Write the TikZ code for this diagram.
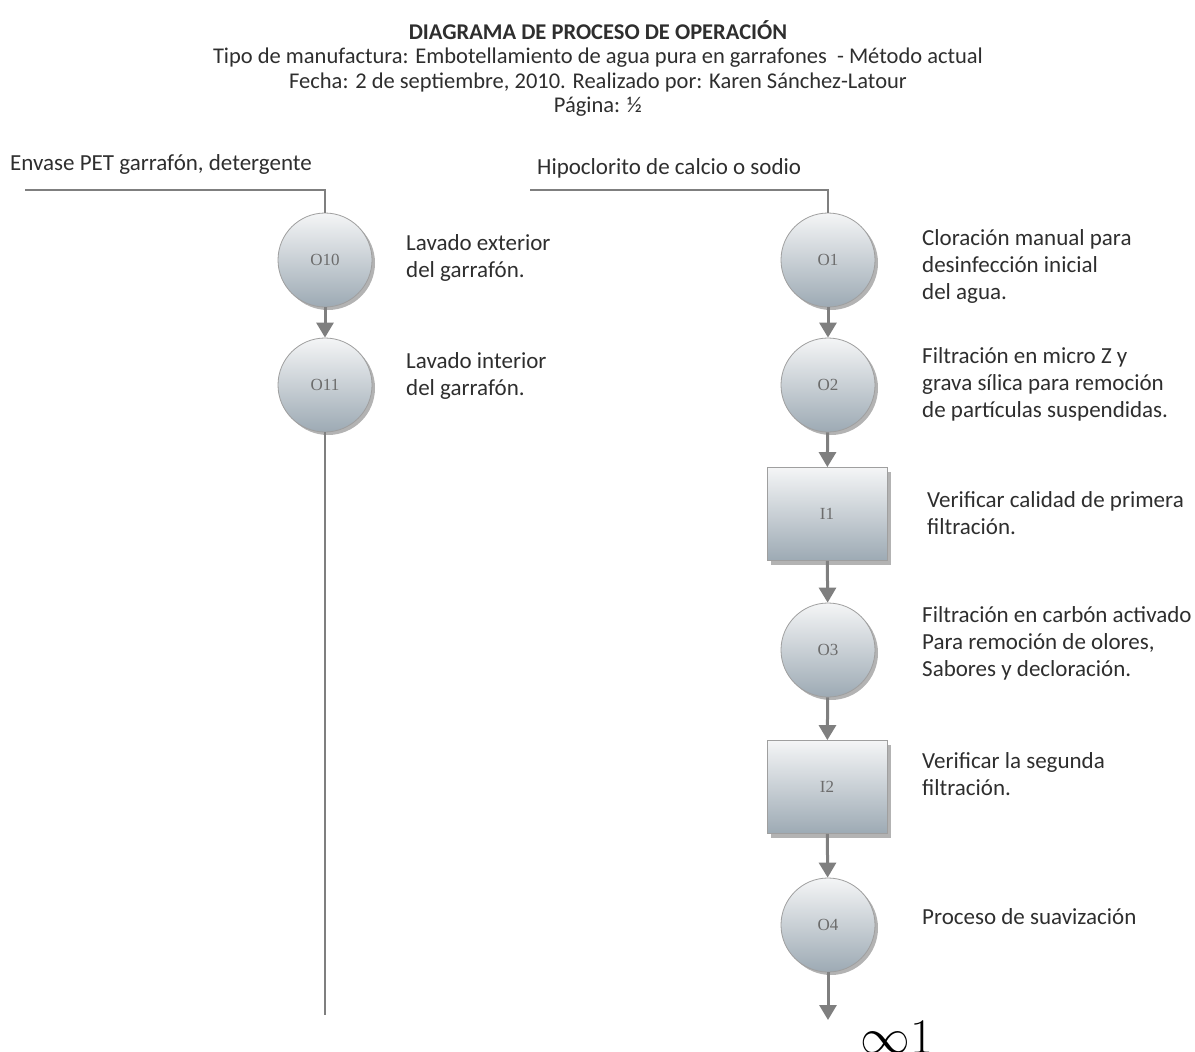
\documentclass[tikz,border=0pt]{standalone}
\usepackage{fontspec}
\setmainfont{Carlito}
\newfontfamily\labelfont{Liberation Serif}
\usetikzlibrary{arrows.meta,shadows,positioning}

\definecolor{flowgray}{HTML}{7F7F7F}
\definecolor{shadetop}{HTML}{F4F5F6}
\definecolor{shadebot}{HTML}{9DAAB4}
\definecolor{txtgray}{HTML}{2E2E2E}

\tikzset{
  opcircle/.style={circle, minimum size=94pt, inner sep=0pt, draw=gray!75, line width=0.8pt,
    top color=shadetop, bottom color=shadebot,
    drop shadow={shadow xshift=3pt, shadow yshift=-3pt, opacity=0.6},
    font=\labelfont\fontsize{17}{19}\selectfont, text=gray!85!black},
  inspbox/.style={rectangle, minimum width=120pt, minimum height=93pt, inner sep=0pt, draw=gray!75, line width=0.8pt,
    top color=shadetop, bottom color=shadebot,
    drop shadow={shadow xshift=4pt, shadow yshift=-4pt, opacity=0.6},
    font=\labelfont\fontsize{17}{19}\selectfont, text=gray!85!black},
  flow/.style={draw=flowgray, line width=3pt, -{Triangle[length=15pt,width=17pt]}},
  feed/.style={draw=flowgray, line width=2.5pt},
  desc/.style={anchor=north west, align=left, inner sep=0pt, text=txtgray,
    font=\fontsize{23}{27}\selectfont},
}

\begin{document}
\begin{tikzpicture}[x=1pt,y=-1pt]
  \useasboundingbox (0,0) rectangle (1195,1052);

  % encabezado
  \node[anchor=north, align=center, inner sep=0pt, text=txtgray, font=\fontsize{22.5}{24.5}\selectfont] (titulo) at (598,20)
    {\textbf{DIAGRAMA DE PROCESO DE OPERACIÓN}\\
     Tipo de manufactura: Embotellamiento de agua pura en garrafones\ \ - Método actual\\
     Fecha: 2 de septiembre, 2010. Realizado por: Karen Sánchez-Latour\\
     Página: ½};

  % linea del garrafon
  \node[desc] (inEnvase) at (10,154) {Envase PET garrafón, detergente};
  \coordinate (feedA) at (25,190);
  \node[opcircle] (o10) at (325,260) {O10};
  \node[opcircle] (o11) at (325,385) {O11};
  \coordinate (endA) at (325,1015);
  \draw[feed] (feedA) -| (o10);
  \draw[flow] (o10) -- (o11);
  \draw[feed] (o11) -- (endA);
  \node[desc] (dO10) at (406,234) {Lavado exterior\\del garrafón.};
  \node[desc] (dO11) at (406,352) {Lavado interior\\del garrafón.};

  % linea del agua
  \node[desc] (inHipo) at (537,158) {Hipoclorito de calcio o sodio};
  \coordinate (feedB) at (530,190);
  \node[opcircle] (o1) at (828,260) {O1};
  \node[opcircle] (o2) at (828,385) {O2};
  \node[inspbox] (i1) at (827,514) {I1};
  \node[opcircle] (o3) at (828,650) {O3};
  \node[inspbox] (i2) at (827,787) {I2};
  \node[opcircle] (o4) at (828,925) {O4};
  \coordinate (endB) at (828,1020);
  \draw[feed] (feedB) -| (o1);
  \draw[flow] (o1) -- (o2);
  \draw[flow] (o2) -- (i1);
  \draw[flow] (i1) -- (o3);
  \draw[flow] (o3) -- (i2);
  \draw[flow] (i2) -- (o4);
  \draw[flow] (o4) -- (endB);

  \node[desc] (dO1) at (922,229) {Cloración manual para\\desinfección inicial\\del agua.};
  \node[desc] (dO2) at (922,347) {Filtración en micro Z y\\grava sílica para remoción\\de partículas suspendidas.};
  \node[desc] (dI1) at (927,491) {Verificar calidad de primera\\filtración.};
  \node[desc] (dO3) at (922,606) {Filtración en carbón activado\\Para remoción de olores,\\Sabores y decloración.};
  \node[desc] (dI2) at (922,752) {Verificar la segunda\\filtración.};
  \node[desc] (dO4) at (922,908) {Proceso de suavización};

  \node[anchor=base west, inner sep=0pt, font=\Huge, scale=2] (cont) at (860,1053) {$\infty 1$};
\end{tikzpicture}
\end{document}
